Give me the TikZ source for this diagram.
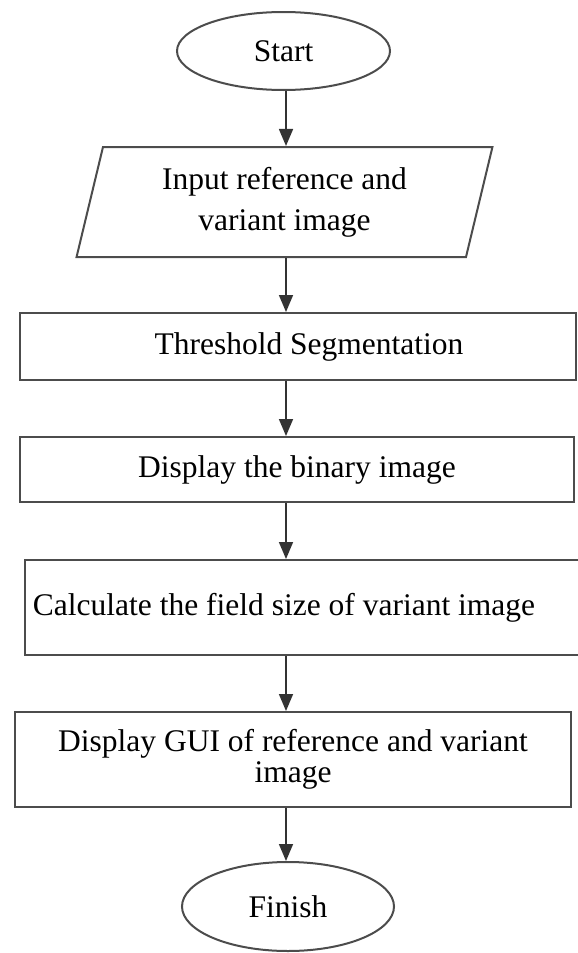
\documentclass[tikz,border=0pt]{standalone}
\usepackage{fontspec}
\setmainfont{Liberation Serif}
\usetikzlibrary{arrows.meta,shapes.geometric}

\begin{document}
\begin{tikzpicture}[x=1pt,y=-1pt,
  every node/.style={font=\fontsize{31.5}{41}\selectfont, text=black},
  outline/.style={draw=black!70, line width=2pt},
  terminal/.style={outline, ellipse, inner sep=0pt},
  io/.style={outline, trapezium, trapezium left angle=75.7,
    trapezium right angle=104.3, trapezium stretches=true, inner sep=0pt},
  process/.style={outline, rectangle, inner sep=0pt},
  flow/.style={draw=black!80, line width=1.6pt, -{Triangle[length=17pt,width=14pt]}}
]
  \useasboundingbox (0,0) rectangle (578,953);
  \coordinate (spine) at (286,0);

  % flow chart steps, top to bottom
  \node[terminal, minimum width=213pt, minimum height=78pt] (start) at (283.5,51) {Start};
  \node[io, minimum width=417pt, minimum height=110pt, align=center] (input) at (284.5,202)
    {Input reference and\\variant image};
  \node[process, minimum width=556pt, minimum height=67pt] (thresh) at (298,346.5)
    {\hspace*{22pt}Threshold Segmentation};
  \node[process, minimum width=554pt, minimum height=65pt] (binary) at (297,469.5)
    {Display the binary image};
  \node[process, minimum width=556pt, minimum height=95pt] (calc) at (303,607.5)
    {Calculate the field size of variant image\hspace*{38pt}};
  \node[process, minimum width=556pt, minimum height=95pt, align=center] (gui) at (293,759.5)
    {Display GUI of reference and variant\\[-10pt]image};
  \node[terminal, minimum width=212pt, minimum height=89pt] (finish) at (288,906.5) {Finish};

  % arrows between the steps
  \foreach \a/\b in {start/input, input/thresh, thresh/binary, binary/calc, calc/gui, gui/finish}
    \draw[flow] (\a.south -| spine) -- (\b.north -| spine);
\end{tikzpicture}
\end{document}
